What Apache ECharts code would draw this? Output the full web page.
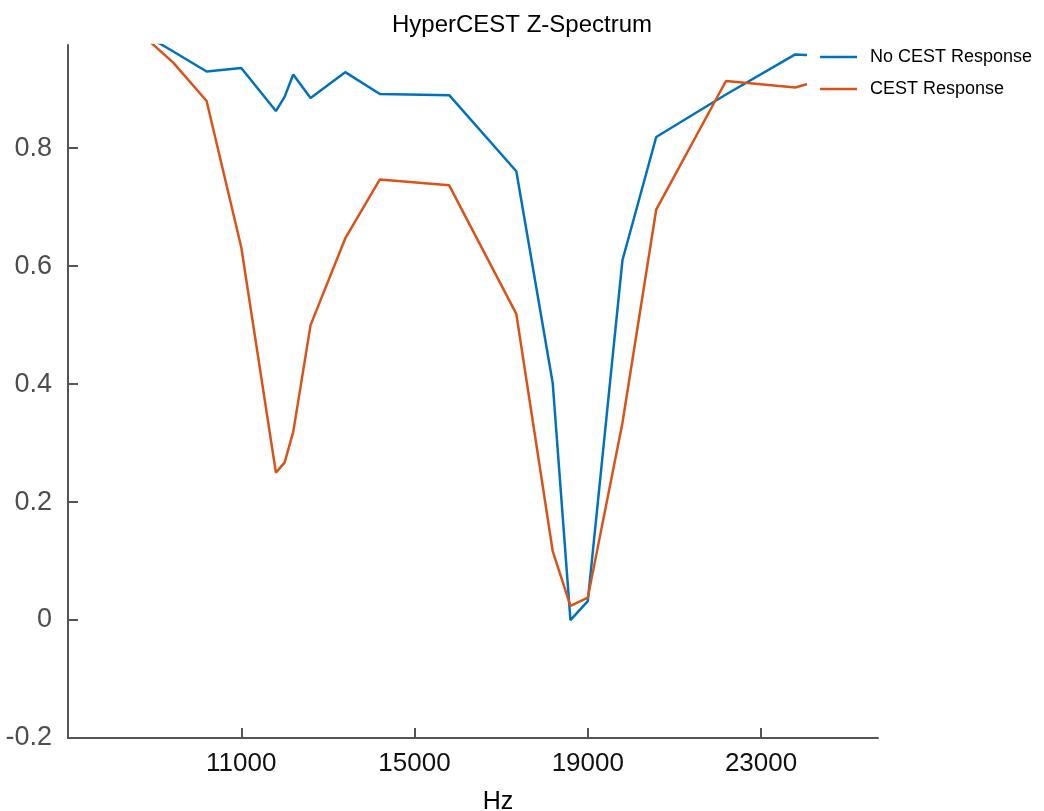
<!DOCTYPE html>
<html>
<head>
<meta charset="utf-8">
<script src="https://cdn.jsdelivr.net/npm/echarts@6/dist/echarts.min.js"></script>
<style>
  html, body { margin: 0; padding: 0; background: #fff; }
  #main { width: 1044px; height: 811px; }
</style>
</head>
<body>
<div id="main"></div>
<script>
// frequency offsets (Hz) and normalised signal
let hz = [8600, 9430, 10200, 11000, 11800, 12000, 12200, 12600, 13400, 14200, 15800,
          17350, 18190, 18600, 19000, 19800, 20580, 22190, 23790, 24030, 25000];
let noCest = [1.0, 0.964, 0.930, 0.936, 0.863, 0.887, 0.925, 0.885, 0.929, 0.892, 0.890,
              0.761, 0.402, 0.0, 0.032, 0.610, 0.819, 0.891, 0.959, 0.958, 0.96];
let cest = [1.0, 0.945, 0.880, 0.632, 0.250, 0.267, 0.319, 0.500, 0.647, 0.747, 0.737,
            0.519, 0.117, 0.024, 0.038, 0.334, 0.696, 0.914, 0.903, 0.908, 0.91];
let xTicks = [11000, 15000, 19000, 23000];
let yTicks = [-0.2, 0, 0.2, 0.4, 0.6, 0.8];

let myChart = echarts.init(document.getElementById('main'));

function pairs(ys) {
    return hz.map(function (x, i) { return [x, ys[i]]; });
}

let axisGrey = '#555555';

let option = {
    backgroundColor: '#ffffff',
    animation: false,
    title: {
        text: 'HyperCEST Z-Spectrum',
        left: 'center',
        top: 8,
        textStyle: {
            fontFamily: 'Liberation Sans',
            fontSize: 24,
            fontWeight: 'normal',
            color: '#000'
        }
    },
    legend: {
        orient: 'vertical',
        left: 807,
        top: 40,
        padding: [8, 8, 8, 13],
        icon: 'rect',
        itemWidth: 37,
        itemHeight: 2.5,
        itemGap: 14,
        backgroundColor: '#ffffff',
        textStyle: {
            fontFamily: 'Liberation Sans',
            fontSize: 18,
            lineHeight: 14,
            color: '#000',
            padding: [0, 0, 0, 8]
        },
        data: ['No CEST Response', 'CEST Response']
    },
    grid: {
        left: 68,
        right: 166,
        top: 45,
        bottom: 73,
        outerBoundsMode: 'none'
    },
    xAxis: {
        type: 'value',
        min: 7000,
        max: 25700,
        name: 'Hz',
        nameLocation: 'middle',
        nameGap: 52,
        nameTextStyle: {
            fontFamily: 'Liberation Sans',
            fontSize: 25,
            color: '#000',
            padding: [0, 0, 0, 50]
        },
        splitLine: { show: false },
        axisLine: { onZero: false, lineStyle: { color: axisGrey, width: 2 } },
        axisTick: {
            inside: true,
            length: 10,
            customValues: xTicks,
            lineStyle: { color: axisGrey, width: 2 }
        },
        axisLabel: {
            customValues: xTicks,
            margin: 13,
            fontFamily: 'Liberation Sans',
            fontSize: 26,
            color: '#111',
            formatter: function (v) { return String(v); }
        }
    },
    yAxis: {
        type: 'value',
        min: -0.2,
        max: 0.975,
        splitLine: { show: false },
        axisLine: { show: true, onZero: false, lineStyle: { color: axisGrey, width: 2 } },
        axisTick: {
            show: true,
            inside: true,
            length: 10,
            customValues: yTicks,
            lineStyle: { color: axisGrey, width: 2 }
        },
        axisLabel: {
            customValues: yTicks,
            margin: 16,
            fontFamily: 'Liberation Sans',
            fontSize: 27,
            color: '#4d4d4d',
            formatter: function (v) { return String(Math.round(v * 10) / 10); }
        }
    },
    series: [
        {
            name: 'No CEST Response',
            type: 'line',
            symbol: 'none',
            clip: true,
            color: '#0072BD',
            lineStyle: { width: 2.5 },
            data: pairs(noCest)
        },
        {
            name: 'CEST Response',
            type: 'line',
            symbol: 'none',
            clip: true,
            color: '#D95319',
            lineStyle: { width: 2.5 },
            data: pairs(cest)
        }
    ]
};

myChart.setOption(option);
</script>
</body>
</html>
